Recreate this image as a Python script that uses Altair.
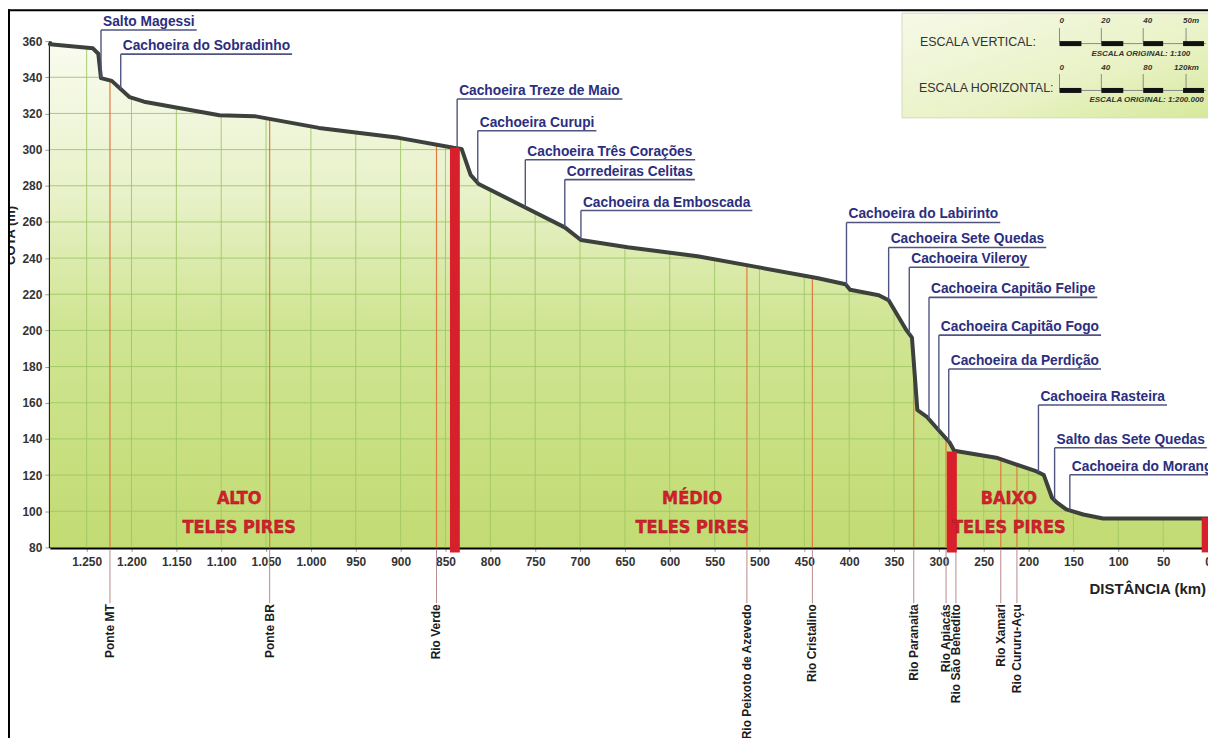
import altair as alt
import numpy as np
import pandas as pd

# ---------------- data ----------------
profile_km = [1291, 1252, 1243, 1237, 1234, 1222, 1202, 1186, 1102, 1063,
              991, 902, 841, 832, 822, 813, 761, 717, 699, 647,
              569, 502, 436, 404, 399, 367, 356, 336, 330, 324,
              313, 297, 288, 283, 236, 191, 183, 174, 169, 158,
              139, 117, 0]
profile_elev = [358.3, 356.5, 356, 353, 339.5, 338, 329, 326.5, 319, 318.5,
                312, 306.5, 301, 300.4, 286, 281, 268, 257, 250, 246,
                241, 235, 229, 225.5, 222.5, 219.5, 216.7, 200, 196, 156,
                152, 143, 138, 133.5, 129.6, 122, 120, 107.6, 105, 101,
                98.2, 96, 96]

callout_names = ["Salto Magessi", "Cachoeira do Sobradinho", "Cachoeira Treze de Maio",
                 "Cachoeira Curupi", "Cachoeira Três Corações", "Corredeiras Celitas",
                 "Cachoeira da Emboscada", "Cachoeira do Labirinto", "Cachoeira Sete Quedas",
                 "Cachoeira Vileroy", "Cachoeira Capitão Felipe", "Cachoeira Capitão Fogo",
                 "Cachoeira da Perdição", "Cachoeira Rasteira", "Salto das Sete Quedas",
                 "Cachoeira do Morango"]
callout_km = [1234, 1212, 837, 814, 761, 717, 699, 403, 356, 333, 311, 300, 289, 189, 171, 154]
callout_level = [366.1, 352.8, 328.0, 310.4, 294.4, 283.4, 266.3, 259.7, 245.9,
                 234.9, 218.3, 197.4, 178.7, 158.8, 135.1, 120.2]

trib_names = ["Ponte MT", "Ponte BR", "Rio Verde", "Rio Peixoto de Azevedo", "Rio Cristalino",
              "Rio Paranaita", "Rio Apiacás", "Rio São Benedito", "Rio Xamari", "Rio Cururu-Açu"]
trib_km = [1224, 1046, 860, 514, 441, 328, 292, 281, 231, 213]

bar_start = [845, 291, 7]
bar_end = [834, 280, 0]
bar_top = [301, 133, 96.5]

section_line1 = ["ALTO", "MÉDIO", "BAIXO"]
section_line2 = ["TELES PIRES", "TELES PIRES", "TELES PIRES"]
section_km = [1080, 575, 222]
section_level1 = [106.5, 106.5, 106.5]
section_level2 = [91, 91, 91]

x_ticks = list(range(0, 1251, 50))
y_ticks = list(range(80, 361, 20))

# ---------------- layout ----------------
W, H = 1162, 508
X_MAX = 1291
Y_MIN, Y_MAX = 80, 360


def km_of_px(px):
    return X_MAX * (1 - px / W)


def el_of_py(py):
    return Y_MIN + (H - py) / H * (Y_MAX - Y_MIN)


XS = alt.Scale(domain=[0, X_MAX], reverse=True, nice=False, zero=False)
YS = alt.Scale(domain=[Y_MIN, Y_MAX], nice=False, zero=False)
X_AXIS = alt.Axis(values=x_ticks, labelExpr="datum.value >= 1000 ? floor(datum.value/1000) + '.' + format(datum.value % 1000, '03d') : '' + datum.value",
                  labelFont="Liberation Sans", labelFontWeight="bold", labelFontSize=12, labelColor="#333333",
                  domainColor="#000000", domainWidth=3, tickColor="#9a9a9a", tickSize=4, labelPadding=5,
                  grid=False, labelOverlap=False, labelFlush=False, labelBound=False, title=None)
Y_AXIS = alt.Axis(values=y_ticks, labelFont="Liberation Sans", labelFontWeight="bold", labelFontSize=12,
                  labelColor="#333333", domainColor="#000000", domainWidth=3, tickColor="#9a9a9a",
                  tickSize=5, labelPadding=3, grid=False, labelOverlap=False, labelFlush=False, title=None)


def X(f):
    return alt.X(f"{f}:Q", scale=XS, axis=X_AXIS, title=None)


def Y(f):
    return alt.Y(f"{f}:Q", scale=YS, axis=Y_AXIS, title=None)


km_asc = np.array(profile_km[::-1], dtype=float)
el_asc = np.array(profile_elev[::-1], dtype=float)


def profile_at(k):
    return float(np.interp(k, km_asc, el_asc))


prof = pd.DataFrame({"km": profile_km, "elev": profile_elev})

# area with gradient
area = alt.Chart(prof).mark_area(
    color=alt.Gradient(gradient="linear", x1=0, y1=0, x2=0, y2=1,
                       stops=[alt.GradientStop(offset=0, color="#f9fbef"),
                              alt.GradientStop(offset=0.3, color="#e8f1c8"),
                              alt.GradientStop(offset=0.55, color="#d0e594"),
                              alt.GradientStop(offset=1, color="#c2db72")]),
    interpolate="linear"
).encode(x=X("km"), y=Y("elev"), y2=alt.datum(Y_MIN))

# grid only inside the fill
vgrid = pd.DataFrame({"km": [k for k in x_ticks if k > 0]})
vgrid["top"] = [profile_at(k) for k in vgrid["km"]]
vgrid["bot"] = Y_MIN
hgrid_levels = [e for e in y_ticks if Y_MIN < e < max(profile_elev)]
hgrid = pd.DataFrame({"elev": hgrid_levels})
hgrid["k0"] = X_MAX
hgrid["k1"] = [float(np.interp(e, el_asc, km_asc)) for e in hgrid_levels]

grid_v = alt.Chart(vgrid).mark_rule(color="#9fc766", strokeWidth=1, opacity=0.9).encode(
    x=X("km"), y=Y("bot"), y2="top:Q")
grid_h = alt.Chart(hgrid).mark_rule(color="#9fc766", strokeWidth=1, opacity=0.9).encode(
    x=X("k0"), x2="k1:Q", y=Y("elev"))

# tributary / bridge lines
trib = pd.DataFrame({"name": trib_names, "km": trib_km})
trib["top"] = [profile_at(k) for k in trib_km]
trib["bot"] = Y_MIN
trib_in = alt.Chart(trib).mark_rule(color="#e2793f", strokeWidth=1.2).encode(
    x=X("km"), y=Y("bot"), y2="top:Q")
trib_out = alt.Chart(trib).mark_rule(color="#b98a8e", strokeWidth=1).encode(
    x=X("km"), y=alt.value(H + 2), y2=alt.value(H + 56))
trib_txt = alt.Chart(trib).mark_text(angle=270, align="right", baseline="middle",
                                     font="Liberation Sans", fontWeight="bold", fontSize=12,
                                     color="#1c1c1c").encode(
    x=X("km"), y=alt.value(H + 57), text="name:N")

# profile line
line = alt.Chart(prof).mark_line(color="#3c413b", strokeWidth=4, strokeJoin="round",
                                 strokeCap="round").encode(x=X("km"), y=Y("elev"))

# red bars
bars = pd.DataFrame({"k0": bar_start, "k1": bar_end, "top": bar_top})
bar_layer = alt.Chart(bars).mark_rect(color="#d81f2c").encode(
    x=X("k0"), x2="k1:Q", y=Y("top"), y2=alt.value(H + 5))

# callouts
BOLD_W = {"a": 556, "b": 611, "c": 556, "ç": 556, "d": 611, "e": 556, "ê": 556, "f": 333, "g": 611,
          "h": 611, "i": 278, "j": 278, "k": 556, "l": 278, "m": 889, "n": 611, "o": 611, "õ": 611,
          "p": 611, "q": 611, "r": 389, "s": 556, "t": 333, "u": 611, "v": 556, "w": 778, "x": 556,
          "y": 556, "z": 500, "ã": 556, " ": 278, "A": 722, "B": 722, "C": 722, "D": 722, "E": 667,
          "F": 611, "G": 778, "H": 722, "I": 278, "J": 556, "K": 722, "L": 611, "M": 833, "N": 722,
          "O": 778, "P": 667, "Q": 778, "R": 722, "S": 667, "T": 611, "U": 722, "V": 667, "W": 944}
CALL_FS = 13.8


def text_w(s, fs):
    return sum(BOLD_W.get(c, 600) for c in s) * fs / 1000.0


ppk = W / X_MAX
call = pd.DataFrame({"name": callout_names, "km": callout_km, "lab": callout_level})
call["base"] = [profile_at(k) for k in callout_km]
call["kend"] = [k - (text_w(n, CALL_FS) + 4) / ppk for n, k in zip(callout_names, callout_km)]

leaders = alt.Chart(call).mark_rule(color="#50547f", strokeWidth=1.4).encode(
    x=X("km"), y=Y("lab"), y2="base:Q")
underl = alt.Chart(call).mark_rule(color="#50547f", strokeWidth=1.6).encode(
    x=X("km"), x2="kend:Q", y=Y("lab"))
call_txt = alt.Chart(call).mark_text(align="left", baseline="alphabetic", dx=2, dy=-4,
                                     font="Liberation Sans", fontWeight="bold", fontSize=CALL_FS,
                                     color="#2c2e7e").encode(
    x=X("km"), y=Y("lab"), text="name:N")

# section labels
sec = pd.DataFrame({"km": section_km * 2, "lev": section_level1 + section_level2,
                    "t": section_line1 + section_line2})
sec_txt = alt.Chart(sec).mark_text(align="center", baseline="middle",
                                   font="DejaVu Sans Condensed, Liberation Sans Narrow, sans-serif",
                                   fontWeight="bold", fontSize=18, color="#d51f2d",
                                   stroke="#9b1420", strokeWidth=0.4).encode(
    x=X("km"), y=Y("lev"), text="t:N")

# axis title and y title
xtitle = alt.Chart(pd.DataFrame({"t": ["DISTÂNCIA (km)"]})).mark_text(
    align="right", baseline="middle", font="Liberation Sans", fontWeight="bold", fontSize=15,
    color="#222222").encode(x=alt.value(W - 2), y=alt.value(H + 42), text="t:N")
ytitle = alt.Chart(pd.DataFrame({"t": ["COTA (m)"]})).mark_text(
    angle=270, align="center", baseline="alphabetic", font="Liberation Sans", fontWeight="bold",
    fontSize=13, color="#222222").encode(x=alt.value(-35), y=alt.value(195), text="t:N")

# frame lines (decoration)
frame_l = alt.Chart(pd.DataFrame({"a": [0]})).mark_rule(color="#000000", strokeWidth=2).encode(
    x=alt.value(-41), y=alt.value(-32), y2=alt.value(H + 200))
frame_t = alt.Chart(pd.DataFrame({"a": [0]})).mark_rule(color="#000000", strokeWidth=2).encode(
    x=alt.value(-42), x2=alt.value(W + 2), y=alt.value(-31))

# legend box (decoration, in pixels converted through the scales)
box = pd.DataFrame({"k0": [km_of_px(855)], "k1": [km_of_px(1166)],
                    "e0": [el_of_py(-28)], "e1": [el_of_py(77)]})
box_layer = alt.Chart(box).mark_rect(
    color=alt.Gradient(gradient="linear", x1=0, y1=0, x2=1, y2=1,
                       stops=[alt.GradientStop(offset=0, color="#f6f9e8"),
                              alt.GradientStop(offset=0.6, color="#e9f2c6"),
                              alt.GradientStop(offset=1, color="#d6e99a")]),
    stroke="#d3d8c0", strokeWidth=1).encode(x=X("k0"), x2="k1:Q", y=Y("e0"), y2="e1:Q")

tick_px = [1013, 1055, 1097, 1140]
seg_px = [(1013, 1035), (1055, 1077), (1097, 1117), (1137, 1158)]
leg_rules = []
for (ya, yb) in [(-13, 1), (33, 48)]:
    leg_rules += [{"k0": km_of_px(p), "k1": km_of_px(p), "e0": el_of_py(ya), "e1": el_of_py(yb)} for p in tick_px]
for yb in [2.5, 49.5]:
    leg_rules.append({"k0": km_of_px(1013), "k1": km_of_px(1160), "e0": el_of_py(yb), "e1": el_of_py(yb)})
leg_rule_layer = alt.Chart(pd.DataFrame(leg_rules)).mark_rule(color="#8a8a8a", strokeWidth=1).encode(
    x=X("k0"), x2="k1:Q", y=Y("e0"), y2="e1:Q")
segs = []
for (ya, yb) in [(0, 5), (47, 52)]:
    segs += [{"k0": km_of_px(a), "k1": km_of_px(b), "e0": el_of_py(ya), "e1": el_of_py(yb)} for a, b in seg_px]
seg_layer = alt.Chart(pd.DataFrame(segs)).mark_rect(color="#111111").encode(
    x=X("k0"), x2="k1:Q", y=Y("e0"), y2="e1:Q")

leg_big = pd.DataFrame({"t": ["ESCALA VERTICAL:", "ESCALA HORIZONTAL:"],
                        "k": [km_of_px(873), km_of_px(872)], "e": [el_of_py(1), el_of_py(47)]})
leg_big_layer = alt.Chart(leg_big).mark_text(align="left", baseline="middle", font="Liberation Sans",
                                             fontSize=12.5, color="#333333").encode(
    x=X("k"), y=Y("e"), text="t:N")
small_rows = []
for t, p in zip(["0", "20", "40", "50m"], [1013, 1055, 1097, 1137]):
    small_rows.append({"t": t, "k": km_of_px(p), "e": el_of_py(-20)})
for t, p in zip(["0", "40", "80", "120km"], [1013, 1055, 1097, 1128]):
    small_rows.append({"t": t, "k": km_of_px(p), "e": el_of_py(27)})
small_rows.append({"t": "ESCALA ORIGINAL: 1:100", "k": km_of_px(1045), "e": el_of_py(13)})
small_rows.append({"t": "ESCALA ORIGINAL: 1:200.000", "k": km_of_px(1043), "e": el_of_py(59)})
leg_small_layer = alt.Chart(pd.DataFrame(small_rows)).mark_text(
    align="left", baseline="middle", font="Liberation Sans", fontSize=8, fontWeight="bold",
    fontStyle="italic", color="#333333").encode(x=X("k"), y=Y("e"), text="t:N")

chart = alt.layer(
    area, grid_v, grid_h, trib_in, trib_out, line, bar_layer, leaders, underl, call_txt,
    sec_txt, trib_txt, xtitle, ytitle, box_layer, leg_rule_layer, seg_layer, leg_big_layer,
    leg_small_layer, frame_l, frame_t
).properties(
    width=W, height=H,
    padding={"left": 42, "top": 32, "right": 0, "bottom": 190},
    autosize=alt.AutoSizeParams(type="none"),
    background="#ffffff"
).configure_view(stroke=None)

chart.save("out.html", embed_options={"renderer": "svg", "actions": False})
